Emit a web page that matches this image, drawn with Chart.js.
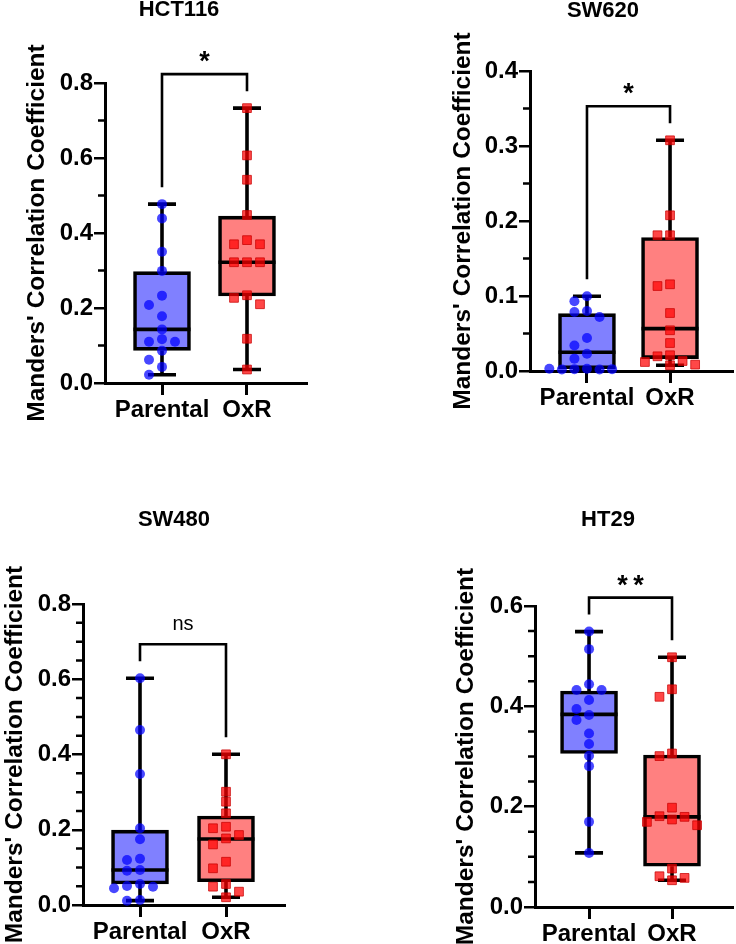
<!DOCTYPE html>
<html>
<head>
<meta charset="utf-8">
<script src="https://cdn.jsdelivr.net/npm/chart.js@4.4.0/dist/chart.umd.min.js"></script>
<style>
  html, body { margin: 0; padding: 0; background: #fff; }
  body { width: 736px; height: 944px; overflow: hidden; position: relative; }
  canvas { position: absolute; }
</style>
</head>
<body>
<canvas id="c0"></canvas>
<canvas id="c1"></canvas>
<canvas id="c2"></canvas>
<canvas id="c3"></canvas>
<script>
const categories = ['Parental', 'OxR'];
const cellLines = ['HCT116', 'SW620', 'SW480', 'HT29'];
const significance = ['*', '*', 'ns', '**'];
const yTitle = "Manders' Correlation Coefficient";
const yMaxima = [0.8, 0.4, 0.8, 0.6];
const yMinorSteps = [0.1, 0.05, 0.05, 0.05];
const yMajorSteps = [0.2, 0.1, 0.2, 0.2];

const hct116Parental = [0.477, 0.439, 0.350, 0.299, 0.233, 0.208, 0.178, 0.143, 0.117, 0.110, 0.110, 0.086, 0.062, 0.043, 0.022];
const hct116OxR = [0.733, 0.607, 0.542, 0.448, 0.381, 0.370, 0.370, 0.322, 0.322, 0.322, 0.234, 0.227, 0.210, 0.118, 0.036];
const hct116Quartiles = [[0.087, 0.143, 0.297], [0.232, 0.322, 0.445]];

const sw620Parental = [0.0997, 0.093, 0.080, 0.0787, 0.072, 0.044, 0.034, 0.023, 0.0165, 0.003, 0.0025, 0.002, 0.002, 0.0025, 0.003];
const sw620OxR = [0.3076, 0.2076, 0.181, 0.181, 0.1156, 0.1133, 0.0773, 0.0543, 0.0373, 0.021, 0.0196, 0.0133, 0.012, 0.0085, 0.0076];
const sw620Quartiles = [[0.003, 0.025, 0.0765], [0.0165, 0.0565, 0.178]];

const sw480Parental = [0.6025, 0.465, 0.348, 0.204, 0.1746, 0.123, 0.1196, 0.093, 0.091, 0.0558, 0.0505, 0.0487, 0.0443, 0.0133, 0.0115];
const sw480OxR = [0.4005, 0.301, 0.2746, 0.2437, 0.208, 0.204, 0.186, 0.177, 0.161, 0.115, 0.0975, 0.0558, 0.0487, 0.0354, 0.0205];
const sw480Quartiles = [[0.0558, 0.093, 0.199], [0.062, 0.1754, 0.2365]];

const ht29Parental = [0.549, 0.514, 0.444, 0.4325, 0.4325, 0.4126, 0.3946, 0.3826, 0.3727, 0.346, 0.3248, 0.3014, 0.2808, 0.1697, 0.1078];
const ht29OxR = [0.4978, 0.434, 0.419, 0.306, 0.3008, 0.198, 0.181, 0.1797, 0.1744, 0.1697, 0.163, 0.0766, 0.0613, 0.058, 0.0533];
const ht29Quartiles = [[0.306, 0.384, 0.4305], [0.0812, 0.1797, 0.3028]];

const groups = [
  [hct116Parental, hct116OxR],
  [sw620Parental, sw620OxR],
  [sw480Parental, sw480OxR],
  [ht29Parental, ht29OxR]
];
const quartiles = [hct116Quartiles, sw620Quartiles, sw480Quartiles, ht29Quartiles];

// page layout of the four panels (page pixels)
const panels = [
  { left: 0,   top: 0,   width: 330, height: 450, area: { l: 105, r: 306, t: 83,  b: 383 }, cats: [162, 247], yTitleX: 37,  titleX: 179, titleY: 10 },
  { left: 440, top: 0,   width: 300, height: 450, area: { l: 530, r: 740, t: 71,  b: 371 }, cats: [589, 675], yTitleX: 463, titleX: 603, titleY: 11 },
  { left: 0,   top: 470, width: 310, height: 474, area: { l: 83,  r: 284, t: 604, b: 905 }, cats: [140, 226], yTitleX: 15,  titleX: 174, titleY: 520 },
  { left: 440, top: 470, width: 300, height: 474, area: { l: 535, r: 740, t: 606, b: 907 }, cats: [591, 677], yTitleX: 466, titleX: 608, titleY: 520 }
];

const fontFamily = "'Liberation Sans', Arial, sans-serif";
const tickSize = 24;
const axisTitleSize = 24.5;
const titleSize = 22;
const boxFills = ['#8080ff', '#ff8080'];
const pointFills = ['rgba(0, 0, 255, 0.72)', 'rgba(255, 0, 0, 0.72)'];
const pointBorders = ['rgba(0, 0, 230, 0.75)', 'rgba(200, 0, 0, 0.75)'];
const lineW = 3.6;
const xAxisHeight = 36;
const majorTick = 11;
const minorTick = 7;

Chart.defaults.font.family = fontFamily;
Chart.defaults.color = '#000';

const isMajor = (v, step) => Math.abs(v / step - Math.round(v / step)) < 1e-6;

// spread overlapping points sideways, like a column scatter
function spreadOffsets(values, yMax, plotH, pxPerCat) {
  const step = 13, minGap = 9.5;
  const placed = [];
  return values.map(v => {
    const py = v / yMax * plotH;
    for (const k of [0, -1, 1, -2, 2, -3, 3, -4, 4]) {
      const px = k * step;
      if (placed.every(p => Math.hypot(p[0] - px, p[1] - py) >= minGap)) {
        placed.push([px, py]);
        return px / pxPerCat;
      }
    }
    return 0;
  });
}

function makeExtras(i, p) {
  const qs = quartiles[i];
  const gs = groups[i];
  return {
    id: 'boxExtras' + i,
    beforeDatasetsDraw(chart) {
      const { ctx, scales: { x, y } } = chart;
      ctx.save();
      ctx.strokeStyle = '#000';
      // short minor ticks on the y axis
      ctx.lineWidth = 2.5;
      ctx.beginPath();
      y.ticks.forEach(t => {
        if (isMajor(t.value, yMajorSteps[i])) return;
        const py = y.getPixelForValue(t.value);
        ctx.moveTo(y.right, py);
        ctx.lineTo(y.right - minorTick, py);
      });
      ctx.stroke();
      // whiskers and caps
      ctx.lineWidth = lineW;
      gs.forEach((g, k) => {
        const cx = x.getPixelForValue(k);
        const lo = Math.min(...g), hi = Math.max(...g);
        ctx.beginPath();
        ctx.moveTo(cx, y.getPixelForValue(lo));
        ctx.lineTo(cx, y.getPixelForValue(qs[k][0]));
        ctx.moveTo(cx, y.getPixelForValue(qs[k][2]));
        ctx.lineTo(cx, y.getPixelForValue(hi));
        [lo, hi].forEach(v => {
          const py = y.getPixelForValue(v);
          ctx.moveTo(cx - 14, py);
          ctx.lineTo(cx + 14, py);
        });
        ctx.stroke();
      });
      ctx.restore();
    },
    afterDatasetDraw(chart, args) {
      if (args.index !== 0) return;
      const { ctx, scales: { y } } = chart;
      const meta = chart.getDatasetMeta(0);
      ctx.save();
      ctx.strokeStyle = '#000';
      ctx.lineWidth = lineW;
      ctx.beginPath();
      meta.data.forEach((bar, k) => {
        const py = y.getPixelForValue(qs[k][1]);
        ctx.moveTo(bar.x - bar.width / 2, py);
        ctx.lineTo(bar.x + bar.width / 2, py);
      });
      ctx.stroke();
      ctx.restore();
    },
    afterDraw(chart) {
      const { ctx, scales: { x, y } } = chart;
      const x0 = x.getPixelForValue(0), x1 = x.getPixelForValue(1);
      const maxes = gs.map(g => Math.max(...g));
      const leg0 = y.getPixelForValue(maxes[0]) - 17;
      const leg1 = y.getPixelForValue(maxes[1]) - 17;
      const top = Math.min(leg0, leg1) - 17;
      ctx.save();
      ctx.strokeStyle = '#000';
      ctx.lineWidth = 2.6;
      ctx.beginPath();
      ctx.moveTo(x0, leg0);
      ctx.lineTo(x0, top);
      ctx.lineTo(x1, top);
      ctx.lineTo(x1, leg1);
      ctx.stroke();
      ctx.fillStyle = '#000';
      ctx.textAlign = 'center';
      ctx.textBaseline = 'alphabetic';
      const label = significance[i];
      if (label === 'ns') {
        ctx.font = `20px ${fontFamily}`;
        ctx.fillText(label, (x0 + x1) / 2, top - 14);
      } else {
        ctx.font = `bold 27px ${fontFamily}`;
        ctx.fillText(label.split('').join('\u2009'), (x0 + x1) / 2, top - 4);
      }
      ctx.font = `bold ${titleSize}px ${fontFamily}`;
      ctx.textBaseline = 'middle';
      ctx.fillText(cellLines[i], p.titleX - p.left, p.titleY - p.top);
      ctx.restore();
    }
  };
}

panels.forEach((p, i) => {
  const canvas = document.getElementById('c' + i);
  canvas.width = p.width;
  canvas.height = p.height;
  canvas.style.left = p.left + 'px';
  canvas.style.top = p.top + 'px';

  const pxPerCat = p.cats[1] - p.cats[0];
  const xMin = -(p.cats[0] - p.area.l) / pxPerCat;
  const xMax = 1 + (p.area.r - p.cats[1]) / pxPerCat;
  const yMax = yMaxima[i];
  const plotH = p.area.b - p.area.t;
  const major = yMajorSteps[i];
  const titleLine = axisTitleSize * 1.2;

  const scatterSets = groups[i].map((g, k) => {
    const offs = spreadOffsets(g, yMax, plotH, pxPerCat);
    return {
      type: 'scatter',
      label: categories[k],
      data: g.map((v, j) => ({ x: k + offs[j], y: v })),
      pointStyle: k === 0 ? 'circle' : 'rect',
      pointRadius: k === 0 ? 5 : 6.2,
      pointHoverRadius: k === 0 ? 5 : 6.2,
      backgroundColor: pointFills[k],
      borderColor: pointBorders[k],
      borderWidth: k === 0 ? 0 : 1,
      order: 1,
      clip: false
    };
  });

  new Chart(canvas, {
    type: 'scatter',
    data: {
      datasets: [
        {
          type: 'bar',
          label: 'box',
          data: quartiles[i].map((q, k) => ({ x: k, y: [q[0], q[2]] })),
          backgroundColor: boxFills,
          borderColor: '#000',
          borderWidth: lineW,
          borderSkipped: false,
          barThickness: 57,
          order: 2,
          clip: false
        },
        ...scatterSets
      ]
    },
    options: {
      responsive: false,
      animation: false,
      devicePixelRatio: 1,
      events: [],
      layout: {
        padding: {
          left: 0,
          top: p.area.t - p.top,
          right: p.left + p.width - p.area.r,
          bottom: p.top + p.height - p.area.b - xAxisHeight
        }
      },
      plugins: {
        legend: { display: false },
        title: { display: false },
        tooltip: { enabled: false }
      },
      scales: {
        x: {
          type: 'linear',
          min: xMin,
          max: xMax,
          offset: false,
          afterBuildTicks: s => { s.ticks = categories.map((c, k) => ({ value: k })); },
          afterFit: s => { s.height = xAxisHeight; },
          ticks: {
            callback: v => categories[v] ?? '',
            font: { size: tickSize, weight: 'bold' },
            color: '#000',
            padding: 1,
            autoSkip: false,
            maxRotation: 0
          },
          grid: { drawOnChartArea: false, offset: false, tickLength: 12, lineWidth: 3, color: '#000' },
          border: { color: '#000', width: 3 }
        },
        y: {
          type: 'linear',
          min: 0,
          max: yMax,
          afterFit: s => { s.width = p.area.l - p.left; },
          ticks: {
            stepSize: yMinorSteps[i],
            autoSkip: false,
            font: { size: tickSize, weight: 'bold' },
            color: '#000',
            padding: 1,
            callback: v => isMajor(v, major) ? v.toFixed(1) : ''
          },
          grid: {
            drawOnChartArea: false,
            tickLength: majorTick,
            lineWidth: 2.5,
            color: '#000',
            tickColor: c => (c.tick && isMajor(c.tick.value, major)) ? '#000' : 'rgba(0,0,0,0)'
          },
          border: { color: '#000', width: 3 },
          title: {
            display: true,
            text: yTitle,
            color: '#000',
            font: { size: axisTitleSize, weight: 'bold' },
            padding: { top: Math.max(p.yTitleX - p.left - titleLine / 2, 0), bottom: 0 }
          }
        }
      }
    },
    plugins: [makeExtras(i, p)]
  });
});
</script>
</body>
</html>
